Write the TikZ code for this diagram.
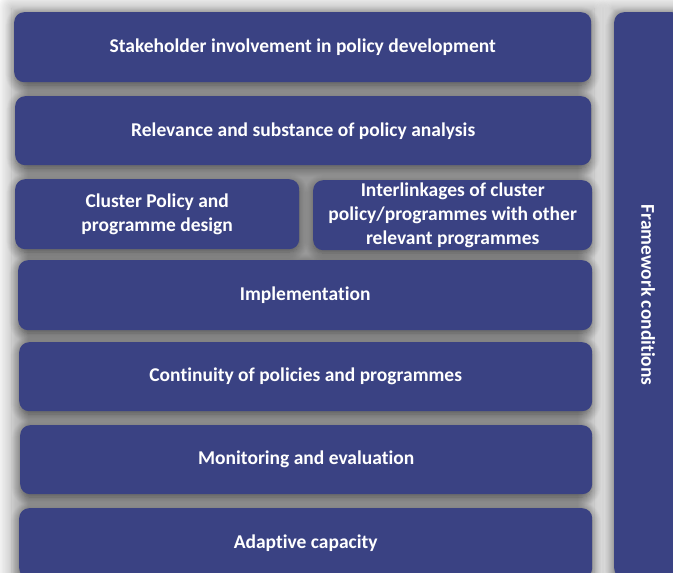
\documentclass[tikz,border=0pt]{standalone}
\usepackage{fontspec}
\setmainfont[Ligatures=NoCommon]{Carlito}
\usetikzlibrary{shadows.blur}
\definecolor{boxblue}{HTML}{3A4283}
\begin{document}
\begin{tikzpicture}[x=1pt,y=-1pt]
        \tikzstyle{blockbox}=[rounded corners=10pt,fill=boxblue,inner sep=0pt,anchor=north west,
          blur shadow={shadow xshift=0pt,shadow yshift=-3pt,shadow blur radius=9pt,shadow blur steps=10,shadow opacity=45}];
        \tikzstyle{backshade}=[blur shadow={shadow xshift=0pt,shadow yshift=0pt,shadow blur radius=16pt,shadow blur steps=14,shadow opacity=40}];
        \tikzstyle{every node}=[text=white,font=\fontsize{19.5}{24}\selectfont\bfseries,align=center];
          \useasboundingbox (0,0) rectangle (673,573);

          % grey shadow behind the stack
          \path[backshade] (12,8) rectangle (594,600);
          \path[backshade] (612,8) rectangle (690,600);

          \node[blockbox,minimum width=577pt,minimum height=70pt](stake) at (14,12) {Stakeholder involvement in policy development};
          \node[blockbox,minimum width=576pt,minimum height=69pt](relev) at (15,96) {Relevance and substance of policy analysis};
          \node[blockbox,minimum width=284pt,minimum height=70pt](design) at (15,179) {Cluster Policy and\\programme design};
          \node[blockbox,minimum width=279pt,minimum height=70pt](links) at (313,180) {Interlinkages of cluster\\policy/programmes with other\\relevant programmes};
          \node[blockbox,minimum width=574pt,minimum height=70pt](impl) at (18,260) {Implementation};
          \node[blockbox,minimum width=573pt,minimum height=69pt](cont) at (19,342) {Continuity of policies and programmes};
          \node[blockbox,minimum width=572pt,minimum height=69pt](monit) at (20,425) {Monitoring and evaluation};
          \node[blockbox,minimum width=573pt,minimum height=70pt](adapt) at (19,508) {Adaptive capacity};

          %\node at (648,295) {};
          \node[blockbox,minimum width=68pt,minimum height=566pt](frame) at (614,12) {};
          \node[rotate=-90](framelabel) at (frame.center) {Framework conditions};
      \end{tikzpicture}
\end{document}
